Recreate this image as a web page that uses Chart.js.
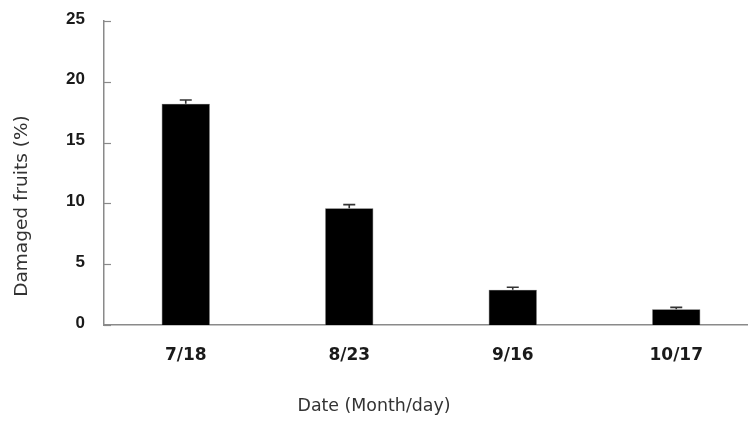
<!DOCTYPE html>
<html>
<head>
<meta charset="utf-8">
<script src="https://cdn.jsdelivr.net/npm/chart.js@4/dist/chart.umd.min.js"></script>
<style>
  html, body { margin: 0; padding: 0; background: #fff; overflow: hidden; }
  #wrap { width: 760px; height: 421px; position: relative; }
</style>
</head>
<body>
<div id="wrap"><canvas id="c"></canvas></div>
<script>
// Sampling dates and share of damaged fruits (mean ± SE)
const dates = ['7/18', '8/23', '9/16', '10/17'];
const damaged = [18.2, 9.6, 2.9, 1.3];
const stdErr = [0.3, 0.3, 0.2, 0.15];
const yTicks = [0, 5, 10, 15, 20, 25];

const xTitle = 'Date (Month/day)';
const yTitle = 'Damaged fruits (%)';

const AXIS_GREY = '#8a8a8a';
const TEXT = '#1a1a1a';

// Upper error whiskers with caps
const errorBars = {
  id: 'errorBars',
  afterDatasetsDraw(chart) {
    const { ctx } = chart;
    const meta = chart.getDatasetMeta(0);
    const y = chart.scales.y;
    ctx.save();
    ctx.strokeStyle = '#333';
    ctx.lineWidth = 1.6;
    meta.data.forEach((bar, i) => {
      const top = y.getPixelForValue(damaged[i] + stdErr[i]);
      const base = y.getPixelForValue(damaged[i]);
      ctx.beginPath();
      ctx.moveTo(bar.x, base);
      ctx.lineTo(bar.x, top);
      ctx.moveTo(bar.x - 6, top);
      ctx.lineTo(bar.x + 6, top);
      ctx.stroke();
    });
    ctx.restore();
  }
};

// Inward tick marks on the value axis and the two axis titles
const axisDecor = {
  id: 'axisDecor',
  afterDraw(chart) {
    const { ctx, chartArea } = chart;
    const y = chart.scales.y;
    ctx.save();
    ctx.strokeStyle = AXIS_GREY;
    ctx.lineWidth = 1.2;
    yTicks.forEach(v => {
      const py = Math.round(y.getPixelForValue(v)) + 0.5;
      ctx.beginPath();
      ctx.moveTo(chartArea.left, py);
      ctx.lineTo(chartArea.left + 7, py);
      ctx.stroke();
    });
    ctx.fillStyle = '#333';
    ctx.textAlign = 'center';
    ctx.textBaseline = 'middle';
    ctx.font = '17.4px "DejaVu Sans", sans-serif';
    ctx.fillText(xTitle, 374, 406);
    ctx.translate(22, 206);
    ctx.rotate(-Math.PI / 2);
    ctx.font = '18.5px "DejaVu Sans", sans-serif';
    ctx.fillText(yTitle, 0, 0);
    ctx.restore();
  }
};

new Chart(document.getElementById('c'), {
  type: 'bar',
  data: {
    labels: dates,
    datasets: [{
      data: damaged,
      backgroundColor: '#000',
      borderColor: '#555',
      borderWidth: 0.6,
      barPercentage: 0.295,
      categoryPercentage: 1
    }]
  },
  options: {
    responsive: true,
    maintainAspectRatio: false,
    animation: false,
    layout: { padding: { top: 21, right: 2, left: 0, bottom: 0 } },
    plugins: { legend: { display: false }, tooltip: { enabled: false } },
    scales: {
      x: {
        grid: { display: false, drawTicks: false },
        border: { display: true, color: AXIS_GREY, width: 1.5 },
        ticks: {
          color: TEXT,
          padding: 20,
          font: { family: '"DejaVu Sans", sans-serif', size: 17, weight: 'bold' }
        },
        afterFit(scale) { scale.height = 96; }
      },
      y: {
        min: 0,
        max: 25,
        grid: { display: false, drawTicks: false },
        border: { display: true, color: AXIS_GREY, width: 1.5 },
        ticks: {
          stepSize: 5,
          color: TEXT,
          padding: 19,
          labelOffset: -2,
          font: { family: '"Liberation Sans", sans-serif', size: 17, weight: 'bold' }
        },
        afterFit(scale) {
          scale.width = 104;
          scale.paddingTop = 0;
          scale.paddingBottom = 0;
        }
      }
    }
  },
  plugins: [errorBars, axisDecor]
});
</script>
</body>
</html>
